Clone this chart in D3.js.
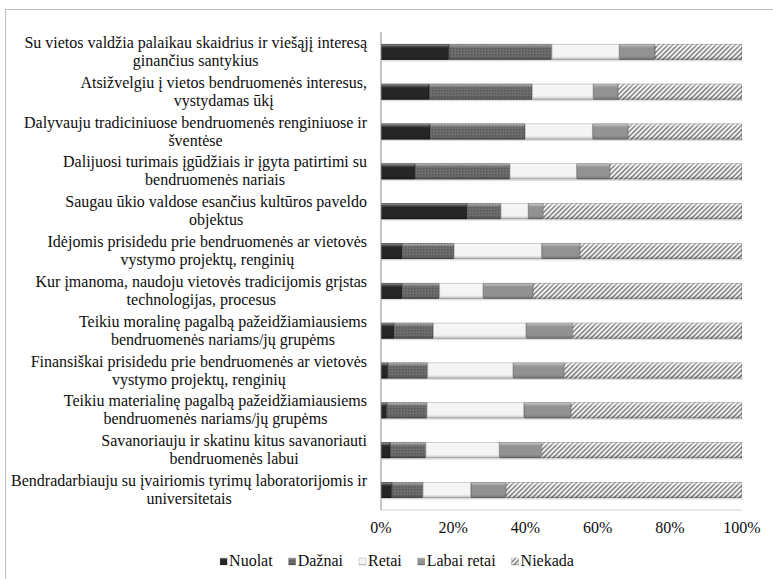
<!DOCTYPE html>
<html>
<head>
<meta charset="utf-8">
<script src="https://cdn.jsdelivr.net/npm/d3@7"></script>
<style>
  body { margin: 0; background: #fff; }
</style>
</head>
<body>
<svg width="773" height="579"></svg>
<script>

// category labels, each split in the two lines shown on the chart
var categories = [
  ['Su vietos valdžia palaikau skaidrius ir viešąjį interesą', 'ginančius santykius'],
  ['Atsižvelgiu į vietos bendruomenės interesus,', 'vystydamas ūkį'],
  ['Dalyvauju tradiciniuose bendruomenės renginiuose ir', 'šventėse'],
  ['Dalijuosi turimais įgūdžiais ir įgyta patirtimi su', 'bendruomenės nariais'],
  ['Saugau ūkio valdose esančius kultūros paveldo', 'objektus'],
  ['Idėjomis prisidedu prie bendruomenės ar vietovės', 'vystymo projektų, renginių'],
  ['Kur įmanoma, naudoju vietovės tradicijomis grįstas', 'technologijas, procesus'],
  ['Teikiu moralinę pagalbą pažeidžiamiausiems', 'bendruomenės nariams/jų grupėms'],
  ['Finansiškai prisidedu prie bendruomenės ar vietovės', 'vystymo projektų, renginių'],
  ['Teikiu materialinę pagalbą pažeidžiamiausiems', 'bendruomenės nariams/jų grupėms'],
  ['Savanoriauju ir skatinu kitus savanoriauti', 'bendruomenės labui'],
  ['Bendradarbiauju su įvairiomis tyrimų laboratorijomis ir', 'universitetais']
]

var seriesNames = ['Nuolat', 'Dažnai', 'Retai', 'Labai retai', 'Niekada']

// percentages, same order as categories
var nuolat     = [18.8, 13.3, 13.6,  9.4, 23.9,  5.9,  5.9,  3.7,  1.9,  1.6,  2.5,  3.0]
var daznai     = [28.5, 28.6, 26.3, 26.3,  9.3, 14.3, 10.3, 10.8, 11.0, 11.1,  9.9,  8.6]
var retai      = [18.7, 16.9, 18.7, 18.5,  7.6, 24.3, 12.1, 25.7, 23.7, 26.9, 20.4, 13.3]
var labaiRetai = [ 9.9,  6.9,  9.9,  9.2,  4.2, 10.6, 13.9, 12.9, 14.2, 13.0, 11.7,  9.7]
var niekada    = [24.1, 34.3, 31.5, 36.6, 55.0, 44.9, 57.8, 46.9, 49.2, 47.4, 55.5, 65.4]

var tickValues = [0, 20, 40, 60, 80, 100]

var serif = "'Liberation Serif', 'Times New Roman', serif"
var fontSize = '16px'
var textColor = '#0d0d0d'

var rows = categories.map(function(c, i){
  return {
    id: i,
    'Nuolat': nuolat[i],
    'Dažnai': daznai[i],
    'Retai': retai[i],
    'Labai retai': labaiRetai[i],
    'Niekada': niekada[i]
  }
})

var svg = d3.select('svg')
    .attr('font-family', serif)
var defs = svg.append('defs')

// fills for the five answers
var fills = {
  'Nuolat': '#262626',
  'Dažnai': 'url(#dots)',
  'Retai': '#f4f4f4',
  'Labai retai': '#929292',
  'Niekada': 'url(#hatch)'
}

var dots = defs.append('pattern')
    .attr('id', 'dots')
    .attr('width', 3).attr('height', 3)
    .attr('patternUnits', 'userSpaceOnUse')
dots.append('rect').attr('width', 3).attr('height', 3).attr('fill', '#6e6e6e')
dots.append('rect').attr('width', 1.5).attr('height', 1.5).attr('fill', '#565656')

var hatch = defs.append('pattern')
    .attr('id', 'hatch')
    .attr('width', 3.4).attr('height', 3.4)
    .attr('patternUnits', 'userSpaceOnUse')
    .attr('patternTransform', 'rotate(45)')
hatch.append('rect').attr('width', 3.4).attr('height', 3.4).attr('fill', '#f6f6f6')
hatch.append('rect').attr('width', 1.6).attr('height', 3.4).attr('fill', '#858585')

// bevel look on top of each segment
var bevel = defs.append('linearGradient')
    .attr('id', 'bevel')
    .attr('x1', 0).attr('y1', 0).attr('x2', 0).attr('y2', 1)
bevel.selectAll('stop')
    .data([
      [0, '#fff', 0.55], [0.14, '#fff', 0.18], [0.25, '#fff', 0],
      [0.78, '#000', 0], [0.9, '#000', 0.12], [1, '#000', 0.3]
    ])
    .join('stop')
    .attr('offset', function(d){ return d[0] })
    .attr('stop-color', function(d){ return d[1] })
    .attr('stop-opacity', function(d){ return d[2] })

// outer frame
svg.append('rect')
    .attr('x', 5.5).attr('y', 9.5)
    .attr('width', 800).attr('height', 600)
    .attr('fill', 'none')
    .attr('stroke', '#bdbdbd')

var x = d3.scaleLinear().domain([0, 100]).range([381, 742])
var y = d3.scaleBand().domain(d3.range(categories.length)).range([32, 510]).paddingInner(0.6).paddingOuter(0.3)

var stacked = d3.stack().keys(seriesNames)(rows)

// soft shadow below the bars
svg.append('g')
    .selectAll('rect')
    .data(rows)
    .join('rect')
    .attr('x', x(0) + 1)
    .attr('y', function(d){ return y(d.id) + y.bandwidth() })
    .attr('width', x(100) - x(0))
    .attr('height', 1.5)
    .attr('fill', '#dedede')

var layers = svg.append('g')
    .selectAll('g')
    .data(stacked)
    .join('g')

layers.selectAll('rect.seg')
    .data(function(d){ return d.map(function(v){ return {key: d.key, v: v} }) })
    .join('rect')
    .attr('class', 'seg')
    .attr('x', function(d){ return x(d.v[0]) })
    .attr('y', function(d){ return y(d.v.data.id) })
    .attr('width', function(d){ return x(d.v[1]) - x(d.v[0]) })
    .attr('height', y.bandwidth())
    .attr('fill', function(d){ return fills[d.key] })

layers.selectAll('rect.bev')
    .data(function(d){ return d.map(function(v){ return {key: d.key, v: v} }) })
    .join('rect')
    .attr('class', 'bev')
    .attr('x', function(d){ return x(d.v[0]) + 0.3 })
    .attr('y', function(d){ return y(d.v.data.id) + 0.3 })
    .attr('width', function(d){ return Math.max(0, x(d.v[1]) - x(d.v[0]) - 0.6) })
    .attr('height', y.bandwidth() - 0.6)
    .attr('fill', 'url(#bevel)')
    .attr('stroke', 'rgba(0,0,0,0.3)')
    .attr('stroke-width', 0.6)

// axes lines
svg.append('line')
    .attr('x1', x(0)).attr('x2', x(100))
    .attr('y1', 510).attr('y2', 510)
    .attr('stroke', '#cfcfcf')
svg.append('line')
    .attr('x1', x(0)).attr('x2', x(0))
    .attr('y1', 32).attr('y2', 510)
    .attr('stroke', '#8c8c8c')

// tick labels
svg.append('g')
    .selectAll('text')
    .data(tickValues)
    .join('text')
    .attr('x', function(d){ return x(d) })
    .attr('y', 533)
    .attr('text-anchor', 'middle')
    .attr('font-family', serif)
    .attr('fill', textColor)
    .style('font-size', fontSize)
    .text(function(d){ return d + '%' })

// category labels: block right aligned, lines centred on the first one
var labelRight = 367
var labels = svg.append('g')
    .selectAll('g')
    .data(categories)
    .join('g')

labels.append('text')
    .attr('class', 'l1')
    .attr('x', labelRight)
    .attr('y', function(d, i){ return y(i) + y.bandwidth() / 2 - 4 })
    .attr('text-anchor', 'end')
    .attr('font-family', serif)
    .attr('fill', textColor)
    .style('font-size', fontSize)
    .text(function(d){ return d[0] })

labels.each(function(d, i){
  var g = d3.select(this)
  var w = g.select('text.l1').node().getComputedTextLength()
  g.append('text')
      .attr('x', labelRight - w / 2)
      .attr('y', y(i) + y.bandwidth() / 2 + 14)
      .attr('text-anchor', 'middle')
      .attr('font-family', serif)
      .attr('fill', textColor)
      .style('font-size', fontSize)
      .text(d[1])
})

// legend
var legend = svg.append('g')
var lx = 0
var items = legend.selectAll('g')
    .data(seriesNames)
    .join('g')

items.append('rect')
    .attr('y', -8)
    .attr('width', 7).attr('height', 7)
    .attr('fill', function(d){ return fills[d] })
items.append('rect')
    .attr('y', -8)
    .attr('width', 7).attr('height', 7)
    .attr('fill', 'url(#bevel)')
    .attr('stroke', 'rgba(0,0,0,0.3)')
    .attr('stroke-width', 0.5)
items.append('text')
    .attr('x', 9)
    .attr('font-family', serif)
    .attr('fill', textColor)
    .style('font-size', fontSize)
    .text(function(d){ return d })

items.each(function(){
  var g = d3.select(this)
  g.attr('transform', 'translate(' + lx + ',0)')
  lx += 9 + g.select('text').node().getComputedTextLength() + 16
})
lx -= 16
legend.attr('transform', 'translate(' + (397 - lx / 2) + ',566)')

</script>
</body>
</html>
